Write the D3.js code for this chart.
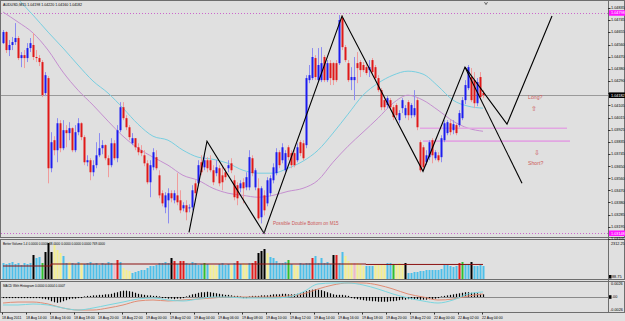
<!DOCTYPE html>
<html>
<head>
<meta charset="utf-8">
<script src="https://cdn.jsdelivr.net/npm/d3@7"></script>
<style>
  body { margin: 0; background: #e0e0e0; }
  svg { display: block; }
  text { font-family: "Liberation Sans", Arial, sans-serif; }
</style>
</head>
<body>
<svg id="chart" width="625" height="321"></svg>
<script>
// AUDUSD M15 chart — candles, two MAs, hand-drawn zigzag, Better Volume, MACD.

// ── data ────────────────────────────────────────────────────────────────

const title = "AUDUSD,M15  1.04198 1.04220 1.04160 1.04182";

const timeLabels = [
  "18 Aug 2011", "18 Aug 14:00", "18 Aug 16:00", "18 Aug 18:00", "18 Aug 20:00",
  "18 Aug 22:00", "19 Aug 00:00", "19 Aug 02:00", "19 Aug 04:00", "19 Aug 06:00",
  "19 Aug 08:00", "19 Aug 10:00", "19 Aug 12:00", "19 Aug 14:00", "19 Aug 16:00",
  "19 Aug 18:00", "19 Aug 20:00", "19 Aug 22:00", "22 Aug 00:00", "22 Aug 02:00",
  "22 Aug 04:00",
];
const timeLabelEvery = 8; // bars between labels

const priceTicks = [
  "1.04835", "1.04745", "1.04655", "1.04560", "1.04470", "1.04380", "1.04290",
  "1.04200", "1.04105", "1.04015", "1.03925", "1.03835", "1.03745", "1.03650",
  "1.03560", "1.03470", "1.03380", "1.03285", "1.03195", "1.03105",
];

const open = [
  1.04572, 1.04655, 1.04520, 1.04558, 1.04580, 1.04610, 1.04460, 1.04482, 1.04460, 1.04535,
  1.04558, 1.04468, 1.04460, 1.04430, 1.04198, 1.04310, 1.03635, 1.03845, 1.03770, 1.03972,
  1.03785, 1.03920, 1.03898, 1.03935, 1.03770, 1.03905, 1.03972, 1.03868, 1.03680, 1.03695,
  1.03605, 1.03658, 1.03732, 1.03785, 1.03808, 1.03710, 1.03658, 1.03822, 1.03710, 1.03920,
  1.04092, 1.04010, 1.03942, 1.03822, 1.03860, 1.03792, 1.03770, 1.03732, 1.03672, 1.03530,
  1.03642, 1.03718, 1.03582, 1.03448, 1.03342, 1.03395, 1.03448, 1.03395, 1.03432, 1.03395,
  1.03335, 1.03358, 1.03335, 1.03342, 1.03522, 1.03522, 1.03680, 1.03642, 1.03695, 1.03695,
  1.03620, 1.03598, 1.03635, 1.03582, 1.03605, 1.03635, 1.03672, 1.03545, 1.03508, 1.03485,
  1.03530, 1.03492, 1.03492, 1.03710, 1.03492, 1.03485, 1.03268, 1.03432, 1.03372, 1.03448,
  1.03545, 1.03598, 1.03755, 1.03695, 1.03620, 1.03792, 1.03748, 1.03748, 1.03695, 1.03830,
  1.03822, 1.03808, 1.04295, 1.04310, 1.04460, 1.04295, 1.04295, 1.04468, 1.04295, 1.04422,
  1.04422, 1.04422, 1.04422, 1.04760, 1.04542, 1.04422, 1.04295, 1.04295, 1.04422, 1.04430,
  1.04408, 1.04392, 1.04370, 1.04445, 1.04392, 1.04310, 1.04220, 1.04145, 1.04108, 1.04145,
  1.04092, 1.04108, 1.03995, 1.04085, 1.04032, 1.04130, 1.04032, 1.04032, 1.04145, 1.03830,
  1.03792, 1.03680, 1.03718, 1.03845, 1.03710, 1.03732, 1.03718, 1.03845, 1.03898, 1.03972,
  1.03920, 1.03958, 1.03958, 1.04010, 1.04145, 1.04235, 1.04318, 1.04295, 1.04122, 1.04318,
  1.04198,
];
const high = [
  1.04670, 1.04662, 1.04595, 1.04618, 1.04722, 1.04625, 1.04505, 1.04520, 1.04572, 1.04610,
  1.04648, 1.04520, 1.04482, 1.04445, 1.04355, 1.04325, 1.03905, 1.03875, 1.04010, 1.03995,
  1.03995, 1.03958, 1.03980, 1.03942, 1.03958, 1.04010, 1.03980, 1.03882, 1.03732, 1.03710,
  1.03695, 1.03830, 1.03898, 1.03845, 1.03815, 1.03732, 1.03860, 1.03845, 1.03958, 1.04130,
  1.04130, 1.04032, 1.03958, 1.03898, 1.03860, 1.03822, 1.03808, 1.03770, 1.03695, 1.03695,
  1.03785, 1.03770, 1.03620, 1.03470, 1.03455, 1.03485, 1.03470, 1.03470, 1.03598, 1.03470,
  1.03380, 1.03395, 1.03365, 1.03508, 1.03545, 1.03695, 1.03732, 1.03732, 1.03718, 1.03732,
  1.03658, 1.03695, 1.03658, 1.03658, 1.03635, 1.03695, 1.03710, 1.03582, 1.03530, 1.03545,
  1.03560, 1.03605, 1.03770, 1.03732, 1.03635, 1.03560, 1.03500, 1.03470, 1.03568, 1.03582,
  1.03672, 1.03785, 1.03770, 1.03822, 1.03770, 1.03808, 1.03770, 1.03770, 1.03822, 1.03845,
  1.03845, 1.04332, 1.04408, 1.04535, 1.04482, 1.04535, 1.04542, 1.04482, 1.04445, 1.04445,
  1.04430, 1.04445, 1.04782, 1.04782, 1.04558, 1.04445, 1.04392, 1.04468, 1.04505, 1.04445,
  1.04430, 1.04430, 1.04445, 1.04460, 1.04408, 1.04332, 1.04235, 1.04160, 1.04175, 1.04160,
  1.04108, 1.04122, 1.04070, 1.04160, 1.04108, 1.04145, 1.04122, 1.04220, 1.04160, 1.03845,
  1.03808, 1.03770, 1.03845, 1.03860, 1.03770, 1.03755, 1.03882, 1.03995, 1.03995, 1.03995,
  1.03995, 1.03972, 1.04070, 1.04168, 1.04295, 1.04408, 1.04385, 1.04355, 1.04310, 1.04355,
  1.04220,
];
const low = [
  1.04565, 1.04498, 1.04475, 1.04520, 1.04558, 1.04445, 1.04392, 1.04385, 1.04430, 1.04505,
  1.04445, 1.04430, 1.04400, 1.04168, 1.04175, 1.03522, 1.03605, 1.03732, 1.03680, 1.03755,
  1.03770, 1.03792, 1.03845, 1.03755, 1.03755, 1.03882, 1.03845, 1.03658, 1.03650, 1.03545,
  1.03575, 1.03635, 1.03718, 1.03740, 1.03695, 1.03568, 1.03642, 1.03695, 1.03680, 1.03905,
  1.03995, 1.03920, 1.03845, 1.03808, 1.03770, 1.03732, 1.03725, 1.03650, 1.03515, 1.03418,
  1.03620, 1.03620, 1.03410, 1.03350, 1.03298, 1.03222, 1.03380, 1.03372, 1.03358, 1.03298,
  1.03312, 1.03245, 1.03305, 1.03320, 1.03425, 1.03500, 1.03582, 1.03620, 1.03605, 1.03605,
  1.03508, 1.03575, 1.03500, 1.03470, 1.03545, 1.03605, 1.03598, 1.03395, 1.03358, 1.03455,
  1.03372, 1.03470, 1.03470, 1.03575, 1.03470, 1.03245, 1.03222, 1.03282, 1.03350, 1.03425,
  1.03522, 1.03582, 1.03635, 1.03672, 1.03605, 1.03695, 1.03635, 1.03642, 1.03680, 1.03725,
  1.03695, 1.03785, 1.04272, 1.04295, 1.04295, 1.04280, 1.04280, 1.04280, 1.04280, 1.04258,
  1.04258, 1.04280, 1.04408, 1.04520, 1.04430, 1.04280, 1.04220, 1.04145, 1.04272, 1.04318,
  1.04355, 1.04332, 1.04318, 1.04340, 1.04295, 1.04205, 1.04070, 1.04070, 1.04085, 1.04070,
  1.03995, 1.04010, 1.03972, 1.04048, 1.04010, 1.03995, 1.04010, 1.04018, 1.03920, 1.03605,
  1.03628, 1.03658, 1.03695, 1.03672, 1.03695, 1.03680, 1.03680, 1.03830, 1.03882, 1.03882,
  1.03890, 1.03882, 1.03942, 1.03995, 1.04115, 1.04220, 1.04130, 1.04085, 1.04100, 1.04145,
  1.04160,
];
const close = [
  1.04655, 1.04520, 1.04558, 1.04580, 1.04610, 1.04460, 1.04482, 1.04460, 1.04535, 1.04572,
  1.04468, 1.04460, 1.04430, 1.04182, 1.04332, 1.03635, 1.03830, 1.03770, 1.03972, 1.03785,
  1.03920, 1.03898, 1.03935, 1.03770, 1.03905, 1.03972, 1.03868, 1.03680, 1.03695, 1.03605,
  1.03658, 1.03732, 1.03785, 1.03808, 1.03710, 1.03658, 1.03822, 1.03710, 1.03920, 1.04092,
  1.04010, 1.03942, 1.03868, 1.03860, 1.03792, 1.03755, 1.03748, 1.03672, 1.03530, 1.03658,
  1.03755, 1.03635, 1.03432, 1.03372, 1.03432, 1.03448, 1.03410, 1.03448, 1.03380, 1.03320,
  1.03358, 1.03305, 1.03342, 1.03470, 1.03448, 1.03658, 1.03605, 1.03695, 1.03635, 1.03620,
  1.03530, 1.03642, 1.03522, 1.03530, 1.03568, 1.03658, 1.03620, 1.03418, 1.03410, 1.03522,
  1.03485, 1.03568, 1.03718, 1.03598, 1.03620, 1.03260, 1.03485, 1.03320, 1.03545, 1.03560,
  1.03642, 1.03755, 1.03658, 1.03792, 1.03748, 1.03718, 1.03658, 1.03658, 1.03792, 1.03748,
  1.03710, 1.04310, 1.04332, 1.04468, 1.04318, 1.04408, 1.04422, 1.04295, 1.04422, 1.04310,
  1.04295, 1.04295, 1.04745, 1.04542, 1.04445, 1.04295, 1.04318, 1.04318, 1.04385, 1.04370,
  1.04370, 1.04348, 1.04392, 1.04355, 1.04310, 1.04220, 1.04092, 1.04092, 1.04160, 1.04092,
  1.04018, 1.04032, 1.04048, 1.04145, 1.04085, 1.04032, 1.04108, 1.04085, 1.03942, 1.03620,
  1.03642, 1.03732, 1.03830, 1.03732, 1.03755, 1.03695, 1.03860, 1.03972, 1.03980, 1.03905,
  1.03965, 1.03898, 1.04048, 1.04145, 1.04258, 1.04392, 1.04145, 1.04122, 1.04280, 1.04168,
  1.04182,
];

// moving averages, read every maStep bars
const maStep = 5;
const maSlow = [
  1.05030, 1.04902, 1.04782, 1.04655, 1.04535, 1.04408, 1.04288, 1.04198, 1.04085, 1.03965,
  1.03875, 1.03845, 1.03770, 1.03718, 1.03702, 1.03672, 1.03620, 1.03598, 1.03598, 1.03635,
  1.03688, 1.03770, 1.03898, 1.04040, 1.04182, 1.04272, 1.04332, 1.04362, 1.04340, 1.04250,
  1.04145, 1.04100, 1.04085,
];
const maFast = [
  1.04805, 1.04730, 1.04648, 1.04520, 1.04355, 1.04220, 1.04108, 1.03988, 1.03875, 1.03785,
  1.03718, 1.03658, 1.03582, 1.03545, 1.03485, 1.03448, 1.03432, 1.03418, 1.03432, 1.03462,
  1.03485, 1.03545, 1.03680, 1.03800, 1.03905, 1.04010, 1.04122, 1.04182, 1.04145, 1.04070,
  1.03988, 1.03935, 1.03912,
];

// Better Volume: value + colour code per bar
const volume = [
  1041, 978, 1041, 1105, 978, 1041, 914, 1041, 978, 1041,
  1549, 1359, 1422, 1041, 1740, 2311, 1740, 2184, 1867, 1676,
  1486, 1041, 1105, 1041, 978, 1105, 1041, 978, 1041, 1105,
  978, 1041, 914, 1041, 978, 1105, 1041, 978, 1232, 1105,
  724, 597, 533, 406, 470, 533, 597, 597, 724, 851,
  851, 914, 1041, 1041, 1105, 1041, 1359, 1168, 978, 1168,
  1168, 1041, 978, 1105, 1041, 914, 978, 1041, 978, 914,
  914, 851, 978, 1041, 914, 978, 914, 1041, 1168, 978,
  1041, 978, 1041, 1041, 1168, 1676, 1803, 1930, 1676, 1422,
  1359, 1168, 1041, 1041, 1105, 1232, 978, 914, 851, 1041,
  978, 1041, 1041, 1359, 1486, 1041, 1359, 1041, 1105, 978,
  1549, 1549, 1041, 1740, 1486, 1168, 1041, 1041, 1041, 978,
  851, 851, 851, 851, 914, 914, 914, 978, 1041, 1041,
  978, 914, 1041, 914, 1041, 406, 406, 470, 470, 533,
  533, 597, 597, 597, 597, 597, 660, 914, 914, 851,
  787, 851, 1041, 1105, 978, 978, 1105, 851, 851, 914,
  851,
];
const volColor = (
  "bbbbbbbbbbkbbgkkkyyy" + "bbybbbybbb" + "bbbbbbbprb" +
  "yyybbbbbbb" + "bbbbbbkrbr" + "rbbbbbbgby" + "yybbbbybrb" +
  "yybrrkkkyb" + "bbbbbgbyyb" + "bbbrbbbbbb" + "krbbyyypyy" +
  "ybbbyyyybb" + "gyyykbbbbb" + "bbbbbbbbbb" + "bbrgbbkbbb" + "b"
).split("");
const volColors = { b: "#4dbfe9", y: "#f3ef8e", r: "#e11d1d", k: "#000000", g: "#2fbf2f", p: "#f2b6c6" };
const volAvgBar = [0, 15, 16, 120, 121, 160];
const volAvg = [851, 851, 978, 978, 950, 950];

// MACD with histogram
const histogram = [
  -0.0001, -0.0001, -0.0001, -0.0001, -0.0001, -0.0001, -0.0001, -0.0001, -0.0001, -0.0001,
  -0.0001, -0.0001, -0.0001, -0.0002, -0.0003,
  -0.0004, -0.0007, -0.0009, -0.0010, -0.0009, -0.0007, -0.0005,
  -0.0003, -0.0002, -0.0002, -0.0001, -0.0001, 0.0000, 0.0001, 0.0001, 0.0002, 0.0002,
  0.0003, 0.0003, 0.0004, 0.0004,
  0.0005, 0.0007, 0.0008, 0.0010, 0.0011, 0.0011, 0.0010, 0.0009, 0.0007,
  0.0005, 0.0004, 0.0003, 0.0002, 0.0002, 0.0001, 0.0001, 0.0000, -0.0001, -0.0001,
  -0.0002, -0.0002, -0.0003, -0.0002, -0.0002, -0.0001, 0.0000, 0.0002, 0.0004,
  0.0005, 0.0007, 0.0008, 0.0008, 0.0009, 0.0008, 0.0007, 0.0006, 0.0005, 0.0004,
  0.0003, 0.0003, 0.0002,
  0.0001, 0.0001, 0.0000, -0.0001, -0.0001, 0.0000, 0.0001, 0.0001, 0.0001, 0.0002,
  0.0002, 0.0002, 0.0003, 0.0004,
  0.0004, 0.0004, 0.0005, 0.0005, 0.0004, 0.0004, 0.0004, 0.0005, 0.0006, 0.0008,
  0.0010, 0.0012, 0.0013, 0.0014, 0.0013, 0.0012, 0.0010, 0.0008, 0.0006, 0.0004,
  0.0003, 0.0003, 0.0003, 0.0002, 0.0001,
  -0.0001, -0.0002, -0.0003, -0.0004, -0.0005, -0.0006, -0.0006, -0.0007, -0.0007, -0.0008,
  -0.0008, -0.0008, -0.0008, -0.0007, -0.0007, -0.0006, -0.0005, -0.0004, -0.0004,
  -0.0003, -0.0003, -0.0003, -0.0003, -0.0004, -0.0004, -0.0004, -0.0003, -0.0003, -0.0002,
  -0.0001, 0.0000,
  0.0001, 0.0002, 0.0003, 0.0004, 0.0005, 0.0006, 0.0007, 0.0008, 0.0008, 0.0007,
  0.0007, 0.0006, 0.0005, 0.0004,
];
const macdStep = 5;
const macdMain = [
  -0.00154, -0.00154, -0.00135, -0.00154, -0.00212, -0.00251, -0.00212, -0.00154, -0.00097, -0.00039,
  -0.00019, -0.00058, -0.00077, -0.00039, 0.00000, 0.00000, -0.00019, -0.00019, -0.00019, 0.00000,
  0.00097, 0.00251, 0.00270, 0.00270, 0.00232, 0.00154, 0.00058, -0.00019, -0.00077, -0.00116,
  -0.00058, 0.00058, 0.00097,
];
const macdSignal = [
  -0.00116, -0.00097, -0.00097, -0.00135, -0.00212, -0.00251, -0.00251, -0.00212, -0.00154, -0.00077,
  -0.00058, -0.00077, -0.00058, -0.00039, -0.00019, 0.00000, 0.00000, 0.00000, 0.00000, 0.00019,
  0.00058, 0.00154, 0.00232, 0.00270, 0.00270, 0.00232, 0.00154, 0.00058, 0.00000, -0.00058,
  -0.00039, 0.00019, 0.00058,
];

// hand-drawn objects, anchored to bar index + price
const zigzagBar = [62, 68, 87, 113, 140, 154, 168, 183];
const zigzagPrice = [1.03155, 1.03838, 1.03148, 1.04775, 1.03612, 1.04392, 1.03965, 1.04775];
const shortLegBar = [154, 173];
const shortLegPrice = [1.04392, 1.03522];
const levelFrom = [139, 140];
const levelTo = [188, 189];
const levelPrice = [1.03935, 1.03838];
const alertPrice = [1.04798, 1.03148];
const markerBar = [161, 87];
const markerPrice = [1.04868, 1.03160];
const notes = [
  { text: "Long?", bar: 175, price: 1.04152, size: 5.2 },
  { text: "\u21e7", bar: 176, price: 1.04062, size: 6.5 },
  { text: "\u21e9", bar: 177, price: 1.03732, size: 6.5 },
  { text: "Short?", bar: 175, price: 1.03658, size: 5.2 },
  { text: "Possible Double Bottom on M15", bar: 90, price: 1.03208, size: 4.6 },
];

// ── layout + scales ─────────────────────────────────────────────────────

const plotL = 1, plotR = 608;
const mainP = { top: 1, bottom: 237 };
const volP = { top: 240, bottom: 279 };
const macdP = { top: 282, bottom: 312 };

const x = d3.scaleLinear().domain([0, 160]).range([3, 483]);
const y = d3.scaleLinear().domain([1.03195, 1.04835]).range([227, 8]);
const yVol = d3.scaleLinear().domain([88.75, 2312.25]).range([278, 243]);
const yMacd = d3.scaleLinear().domain([-0.0026, 0.0026]).range([310.5, 283.5]);

const svg = d3.select("#chart");
svg.append("rect").attr("width", 625).attr("height", 321).attr("fill", "#e0e0e0");

const defs = svg.append("defs");
for (const [id, p] of [["clipMain", mainP], ["clipVol", volP], ["clipMacd", macdP]]) {
  defs.append("clipPath").attr("id", id).append("rect")
    .attr("x", plotL).attr("y", p.top).attr("width", plotR - plotL).attr("height", p.bottom - p.top);
}

// panel frames
for (const p of [mainP, volP, macdP]) {
  svg.append("rect")
    .attr("x", plotL - 0.5).attr("y", p.top - 0.5)
    .attr("width", 625 - plotL).attr("height", p.bottom - p.top + 1)
    .attr("fill", "none").attr("stroke", "#6e6e6e");
}
svg.append("line").attr("x1", plotR + 0.5).attr("x2", plotR + 0.5)
  .attr("y1", 0).attr("y2", macdP.bottom).attr("stroke", "#6e6e6e");

// ── main panel ─────────────────────────────────────────────────────────

const main = svg.append("g").attr("clip-path", "url(#clipMain)");

// alert levels (dotted magenta) + bid line
main.selectAll("line.alert").data(alertPrice).join("line")
  .attr("x1", plotL).attr("x2", plotR)
  .attr("y1", d => Math.round(y(d)) + 0.5).attr("y2", d => Math.round(y(d)) + 0.5)
  .attr("stroke", "#cc66cc").attr("stroke-dasharray", "1,2");
const bid = close[close.length - 1];
main.append("line")
  .attr("x1", plotL).attr("x2", plotR)
  .attr("y1", Math.round(y(bid)) + 0.5).attr("y2", Math.round(y(bid)) + 0.5)
  .attr("stroke", "#9a9a9a");

// moving averages
const maLine = d3.line().x((d, i) => x(i * maStep)).y(d => y(d)).curve(d3.curveMonotoneX);
main.append("path").attr("d", maLine(maSlow)).attr("fill", "none")
  .attr("stroke", "#78cfe0").attr("stroke-width", 1);
main.append("path").attr("d", maLine(maFast)).attr("fill", "none")
  .attr("stroke", "#c58fd0").attr("stroke-width", 1);

// support / resistance levels
main.selectAll("line.level").data(levelPrice).join("line")
  .attr("x1", (d, i) => x(levelFrom[i])).attr("x2", (d, i) => x(levelTo[i]))
  .attr("y1", d => y(d)).attr("y2", d => y(d))
  .attr("stroke", "#e2a6e2").attr("stroke-width", 1.6);

// candles
const bars = d3.range(open.length);
const candle = main.append("g");
candle.selectAll("line").data(bars).join("line")
  .attr("x1", i => x(i) + 0.5).attr("x2", i => x(i) + 0.5)
  .attr("y1", i => y(high[i])).attr("y2", i => y(low[i]))
  .attr("stroke", i => close[i] >= open[i] ? "#8c8cf0" : "#f09c9c");
candle.selectAll("rect").data(bars).join("rect")
  .attr("x", i => x(i) - 0.5)
  .attr("width", 2)
  .attr("y", i => y(Math.max(open[i], close[i])))
  .attr("height", i => Math.max(1, Math.abs(y(open[i]) - y(close[i]))))
  .attr("fill", i => close[i] >= open[i] ? "#1c1cf0" : "#e01818");

// zigzag trendlines
const zz = d3.line().x(d => x(d[0])).y(d => y(d[1]));
main.append("path").attr("d", zz(zigzagBar.map((b, i) => [b, zigzagPrice[i]])))
  .attr("fill", "none").attr("stroke", "#000").attr("stroke-width", 1.1);
main.append("path").attr("d", zz(shortLegBar.map((b, i) => [b, shortLegPrice[i]])))
  .attr("fill", "none").attr("stroke", "#000").attr("stroke-width", 1.1);

// small arrow markers
main.selectAll("path.marker").data(markerBar).join("path")
  .attr("d", (b, i) => {
    const mx = x(b), my = y(markerPrice[i]);
    return `M${mx - 1.5},${my - 1.5}L${mx},${my + 1}L${mx + 1.5},${my - 1.5}`;
  })
  .attr("fill", "none").attr("stroke", "#555").attr("stroke-width", 0.9);

// text notes
main.selectAll("text.note").data(notes).join("text")
  .attr("x", d => x(d.bar)).attr("y", d => y(d.price))
  .attr("font-size", d => d.size).attr("fill", "#cc5a5a")
  .attr("font-family", d => d.text.length === 1 ? "DejaVu Sans" : null)
  .text(d => d.text);

svg.append("text").attr("x", 3).attr("y", 6).attr("font-size", 3.6).attr("fill", "#000")
  .text(title);

// price axis
const tickGap = 6;
const bidY = y(bid);
for (const t of priceTicks) {
  const ty = y(+t);
  if (ty > mainP.bottom + 3) continue;
  svg.append("line").attr("x1", plotR).attr("x2", plotR + 2.5)
    .attr("y1", Math.round(ty) + 0.5).attr("y2", Math.round(ty) + 0.5).attr("stroke", "#333");
  if (Math.abs(ty - bidY) < tickGap) continue;
  svg.append("text").attr("x", 611).attr("y", ty + 1.4).attr("font-size", 3.8).text(t);
}
function axisTag(price, fill) {
  const ty = y(price);
  svg.append("rect").attr("x", 609).attr("y", ty - 2.8).attr("width", 16).attr("height", 5.6).attr("fill", fill);
  svg.append("text").attr("x", 611).attr("y", ty + 1.4).attr("font-size", 3.8).attr("fill", "#fff")
    .text(price.toFixed(5));
}
alertPrice.forEach(p => axisTag(p, "#ff14ff"));
axisTag(bid, "#000");

// ── volume panel ───────────────────────────────────────────────────────

const vol = svg.append("g").attr("clip-path", "url(#clipVol)");
vol.selectAll("rect").data(bars).join("rect")
  .attr("x", i => x(i) - 0.5).attr("width", 2)
  .attr("y", i => yVol(volume[i]))
  .attr("height", i => volP.bottom - yVol(volume[i]))
  .attr("fill", i => volColors[volColor[i]]);
vol.append("path")
  .attr("d", d3.line().x(d => x(d[0])).y(d => yVol(d[1])).curve(d3.curveStepAfter)(volAvgBar.map((b, i) => [b, volAvg[i]])))
  .attr("fill", "none").attr("stroke", "#8b1010").attr("stroke-width", 1);
svg.append("text").attr("x", 3).attr("y", 245).attr("font-size", 3.1)
  .text("Better Volume 1.4 0.0000 0.0000 38.0000 0.0000 0.0000 0.0000 769.0000");
svg.append("text").attr("x", 611).attr("y", 244.5).attr("font-size", 3.8).text("2312.25");
svg.append("rect").attr("x", 609).attr("y", 275).attr("width", 2.5).attr("height", 3.5).attr("fill", "#000");
svg.append("text").attr("x", 612).attr("y", 278).attr("font-size", 3.8).text("88.75");

// ── MACD panel ─────────────────────────────────────────────────────────

const macd = svg.append("g").attr("clip-path", "url(#clipMacd)");
macd.append("line").attr("x1", plotL).attr("x2", plotR)
  .attr("y1", Math.round(yMacd(0)) + 0.5).attr("y2", Math.round(yMacd(0)) + 0.5)
  .attr("stroke", "#8a8a8a");
macd.selectAll("line.h").data(bars).join("line")
  .attr("x1", i => x(i) + 0.5).attr("x2", i => x(i) + 0.5)
  .attr("y1", yMacd(0)).attr("y2", i => yMacd(histogram[i]) + (histogram[i] >= 0 ? -0.6 : 0.6))
  .attr("stroke", "#000").attr("stroke-width", 1.2);
const mLine = d3.line().x((d, i) => x(i * macdStep)).y(d => yMacd(d)).curve(d3.curveMonotoneX);
macd.append("path").attr("d", mLine(macdSignal)).attr("fill", "none").attr("stroke", "#e08c74");
macd.append("path").attr("d", mLine(macdMain)).attr("fill", "none").attr("stroke", "#7ad6df");
svg.append("text").attr("x", 3).attr("y", 287).attr("font-size", 3.1)
  .text("MACD With Histogram 0.0000 0.0004 0.0007");
svg.append("text").attr("x", 611).attr("y", 285).attr("font-size", 3.8).text("0.0026");
svg.append("rect").attr("x", 609).attr("y", yMacd(0) - 1.8).attr("width", 2.5).attr("height", 3.6).attr("fill", "#000");
svg.append("text").attr("x", 612).attr("y", yMacd(0) + 1.4).attr("font-size", 3.8).text(".00");
svg.append("text").attr("x", 610).attr("y", 311).attr("font-size", 3.8).text("-0.0026");

// ── time axis ──────────────────────────────────────────────────────────

timeLabels.forEach((t, k) => {
  const tx = x(k * timeLabelEvery);
  svg.append("line").attr("x1", Math.round(tx) - 0.5).attr("x2", Math.round(tx) - 0.5)
    .attr("y1", macdP.bottom + 0.5).attr("y2", macdP.bottom + 2.5).attr("stroke", "#333");
  svg.append("text").attr("x", tx - 1).attr("y", 318.5).attr("font-size", 3.5).text(t);
});
</script>
</body>
</html>
